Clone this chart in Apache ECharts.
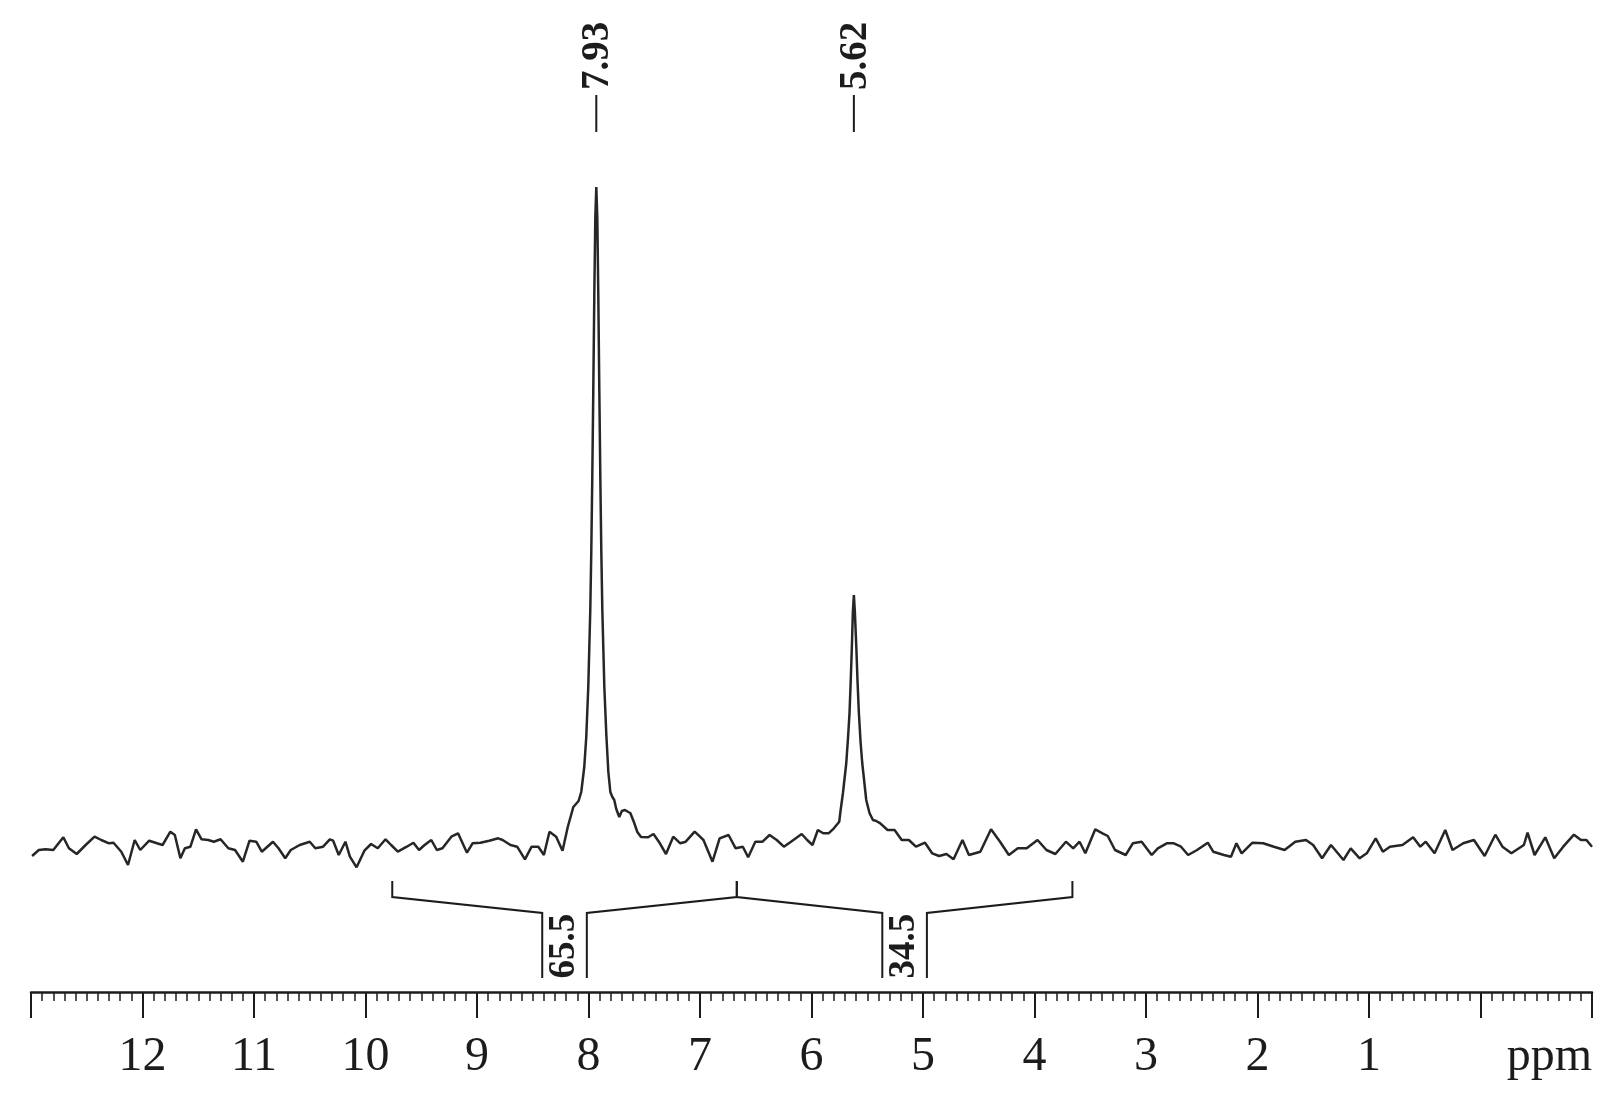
<!DOCTYPE html>
<html>
<head>
<meta charset="utf-8">
<title>1H NMR spectrum</title>
<script src="https://cdn.jsdelivr.net/npm/echarts@6/dist/echarts.min.js"></script>
<style>
  html, body { margin: 0; padding: 0; background: #fff; }
  #chart { width: 1619px; height: 1103px; }
</style>
</head>
<body>
<div id="chart"></div>
<script>
// spectrum trace (ppm, arbitrary intensity)
const shiftPpm = [
  12.99, 12.93, 12.87, 12.80, 12.71, 12.66, 12.59, 12.51, 12.43, 12.37, 12.30, 12.26, 12.19, 12.13, 12.07, 12.02,
  11.94, 11.87, 11.82, 11.75, 11.71, 11.66, 11.62, 11.57, 11.52, 11.47, 11.41, 11.36, 11.30, 11.23, 11.17, 11.10,
  11.04, 10.98, 10.93, 10.83, 10.78, 10.72, 10.67, 10.59, 10.50, 10.45, 10.38, 10.32, 10.29, 10.24, 10.18, 10.14,
  10.08, 10.01, 9.95, 9.89, 9.82, 9.77, 9.71, 9.63, 9.57, 9.52, 9.47, 9.41, 9.36, 9.31, 9.23, 9.17,
  9.09, 9.04, 8.97, 8.89, 8.81, 8.77, 8.70, 8.64, 8.57, 8.51, 8.45, 8.40, 8.35, 8.29, 8.233,
  8.186, 8.136, 8.089, 8.065, 8.038, 8.020, 8.002, 7.984, 7.975, 7.966, 7.957, 7.948, 7.939, 7.930,
  7.921, 7.912, 7.903, 7.894, 7.885, 7.876, 7.858, 7.840, 7.822, 7.804, 7.786, 7.769, 7.751, 7.724,
  7.701, 7.673, 7.643, 7.625, 7.593, 7.562, 7.529, 7.465, 7.417, 7.369, 7.305, 7.240, 7.177, 7.128,
  7.048, 7.000, 6.969, 6.888, 6.824, 6.744, 6.680, 6.616, 6.568, 6.504, 6.439, 6.376, 6.312, 6.248,
  6.184, 6.088, 6.039, 5.991, 5.943, 5.895, 5.847, 5.799, 5.751, 5.742, 5.718, 5.688, 5.672, 5.659,
  5.647, 5.638, 5.629, 5.620, 5.611, 5.598, 5.587, 5.575, 5.560, 5.545, 5.509, 5.480, 5.449, 5.419,
  5.383, 5.318, 5.255, 5.191, 5.127, 5.063, 4.982, 4.918, 4.855, 4.790, 4.726, 4.646, 4.588, 4.486,
  4.390, 4.309, 4.230, 4.150, 4.070, 3.973, 3.893, 3.813, 3.718, 3.653, 3.596, 3.544, 3.455, 3.390,
  3.343, 3.278, 3.182, 3.118, 3.039, 2.949, 2.894, 2.814, 2.750, 2.686, 2.622, 2.542, 2.446, 2.397,
  2.301, 2.238, 2.189, 2.142, 2.045, 1.949, 1.853, 1.757, 1.661, 1.565, 1.501, 1.421, 1.341, 1.229,
  1.164, 1.084, 1.020, 0.940, 0.876, 0.812, 0.700, 0.604, 0.540, 0.491, 0.412, 0.316, 0.251, 0.155,
  0.059, -0.037, -0.133, -0.197, -0.277, -0.389, -0.422, -0.485, -0.581, -0.661, -0.742, -0.838, -0.901, -0.950,
  -1.000
];
const intensity = [
  -9, -3, -2.3, -3, 9.7, -1.3, -7, 2, 10.3, 7, 3.7, 4.3, -4.7, -18, 7, -3,
  6.3, 3.7, 2, 15.3, 12, -11.3, -1.3, 0.3, 17.7, 7.7, 7, 5.3, 7.7, -1.3, -3, -14.7,
  6.3, 5.3, -4.7, 5.3, -1.3, -11.3, -3, 2, 5.3, -1.3, 0.3, 7.7, 6.3, -8, 5.3, -9.7,
  -20.3, -3.7, 3, -1.3, 7.7, 2, -4.7, 0.3, 4.3, -3, 2, 7, -3, -1.3, 10.3, 13.7,
  -5.7, 3.7, 4.3, 6.3, 8.7, 7, 2, 0.3, -12.3, 0.3, 0.3, -8, 15.3, 10.3, -3.7,
  20, 40, 46, 55, 80, 110, 160, 237, 295, 370, 457, 551, 629, 660,
  629, 551, 457, 370, 295, 237, 160, 112, 75, 55, 50, 47, 38, 30,
  36, 37, 35, 34, 25, 15, 10, 9.7, 13, 5.3, -7, 10.3, 3.7, 5.3,
  15.3, 10.3, 7, -14.7, 8.7, 12, -1.3, 0.3, -10.3, 5.3, 5.3, 12, 7, 0.3,
  5.3, 13, 7, 2, 17, 13.7, 13.7, 18.7, 25.3, 34, 54, 84, 110, 134,
  170, 200, 235, 252, 235, 200, 165, 134, 105, 84, 47, 34, 27, 26,
  23.7, 17, 17, 7, 7, 0.3, 4.3, -6.3, -9, -7, -12.3, 7, -8, -4.7,
  17.7, 5.3, -8, -1.3, -1.3, 7, -3, -7, 5.3, -1.3, 5.3, -6.3, 17.7, 13.7,
  11, -3, -8, 3.7, 5.3, -8, -1.3, 3.7, 3.7, 0.3, -8, -3, 4.3, -4.7,
  -8, -9.7, 3.7, -6.3, 4.3, 3.7, 0.3, -3, 5.3, 7, 2, -11.3, 2, -13,
  -1.3, -11.3, -6.3, 8.7, -4.7, 0.3, 2, 9.7, 0.3, 5.3, -6.3, 17, -3, 3.7,
  7, -9, 12.3, 0.3, -6.3, 2, 14.3, -8, 9.7, -11.3, 0.3, 12.3, 7, 7,
  0.3
];

// peak picking
const peakShifts = [7.93, 5.62];
const peakLabels = ['7.93', '5.62'];

// integration regions
const integralFrom = [9.76, 6.67];
const integralTo = [6.67, 3.66];
const integralValues = ['65.5', '34.5'];

// axis
const labelledTicks = [12, 11, 10, 9, 8, 7, 6, 5, 4, 3, 2, 1];
const axisUnit = 'ppm';

const INK = '#1c1c1c';
const SERIF = '"Liberation Serif", "Times New Roman", serif';

// vertical placement of the annotations, in intensity units
const PEAK_MARK = [715, 752];
const PEAK_TEXT = 757;
const INT_TICK = -34;
const INT_LEVEL = -50;
const INT_INNER = -66;
const INT_BOTTOM = -131;
const INT_TEXT = -99;
const INT_GAP = 0.2;

const chart = echarts.init(document.getElementById('chart'));

function renderPeakLabel(params, api) {
  const x = api.value(0);
  const a = api.coord([x, PEAK_MARK[0]]);
  const b = api.coord([x, PEAK_MARK[1]]);
  const t = api.coord([x, PEAK_TEXT]);
  return {
    type: 'group',
    children: [
      {
        type: 'line',
        shape: { x1: a[0], y1: a[1], x2: b[0], y2: b[1] },
        style: { stroke: INK, lineWidth: 2 }
      },
      {
        type: 'text',
        x: t[0] + 2,
        y: t[1],
        rotation: Math.PI / 2,
        style: {
          text: peakLabels[params.dataIndex],
          fill: INK,
          font: 'bold 39px ' + SERIF,
          align: 'left',
          verticalAlign: 'middle'
        }
      }
    ]
  };
}

function renderIntegral(params, api) {
  const from = api.value(0);
  const to = api.value(1);
  const mid = (from + to) / 2;
  const c = (x, y) => api.coord([x, y]);
  const stroke = { stroke: INK, lineWidth: 2, fill: null };
  const t = c(mid, INT_TEXT);
  return {
    type: 'group',
    children: [
      {
        type: 'polyline',
        shape: {
          points: [
            c(from, INT_TICK), c(from, INT_LEVEL),
            c(mid + INT_GAP, INT_INNER), c(mid + INT_GAP, INT_BOTTOM)
          ]
        },
        style: stroke
      },
      {
        type: 'polyline',
        shape: {
          points: [
            c(mid - INT_GAP, INT_BOTTOM), c(mid - INT_GAP, INT_INNER),
            c(to, INT_LEVEL), c(to, INT_TICK)
          ]
        },
        style: stroke
      },
      {
        type: 'text',
        x: t[0],
        y: t[1],
        rotation: Math.PI / 2,
        style: {
          text: integralValues[params.dataIndex],
          fill: INK,
          font: 'bold 37px ' + SERIF,
          align: 'center',
          verticalAlign: 'middle'
        }
      }
    ]
  };
}

const option = {
  animation: false,
  backgroundColor: '#fff',
  grid: {
    left: 31,
    right: 27,
    top: 12,
    bottom: 111,
    containLabel: false,
    outerBoundsMode: 'none'
  },
  xAxis: {
    type: 'value',
    inverse: true,
    min: -1,
    max: 13,
    interval: 1,
    name: axisUnit,
    nameLocation: 'start',
    nameGap: 0,
    nameTextStyle: {
      fontFamily: SERIF,
      fontSize: 48,
      lineHeight: 48,
      color: INK,
      align: 'right',
      verticalAlign: 'top',
      padding: [41, 0, 0, 0]
    },
    axisLine: { onZero: false, lineStyle: { color: INK, width: 2.5 } },
    axisTick: { length: 26, lineStyle: { color: INK, width: 2 } },
    minorTick: { show: true, splitNumber: 10, length: 9, lineStyle: { color: INK, width: 1.5 } },
    axisLabel: {
      margin: 41,
      fontFamily: SERIF,
      fontSize: 48,
      lineHeight: 48,
      color: INK,
      formatter: v => (labelledTicks.includes(v) ? String(v) : '')
    },
    splitLine: { show: false },
    minorSplitLine: { show: false }
  },
  yAxis: {
    type: 'value',
    min: -145,
    max: 835,
    show: false,
    splitLine: { show: false }
  },
  series: [
    {
      name: 'spectrum',
      type: 'line',
      data: shiftPpm.map((x, i) => [x, intensity[i]]),
      showSymbol: false,
      symbol: 'none',
      smooth: false,
      lineStyle: { color: '#262626', width: 2.5 },
      z: 3
    },
    {
      name: 'peaks',
      type: 'custom',
      data: peakShifts.map(p => [p, PEAK_MARK[0]]),
      encode: { x: 0, y: 1 },
      renderItem: renderPeakLabel,
      silent: true
    },
    {
      name: 'integrals',
      type: 'custom',
      data: integralFrom.map((f, i) => [f, integralTo[i], INT_LEVEL]),
      encode: { x: [0, 1], y: 2 },
      renderItem: renderIntegral,
      silent: true
    }
  ]
};

chart.setOption(option);
</script>
</body>
</html>
